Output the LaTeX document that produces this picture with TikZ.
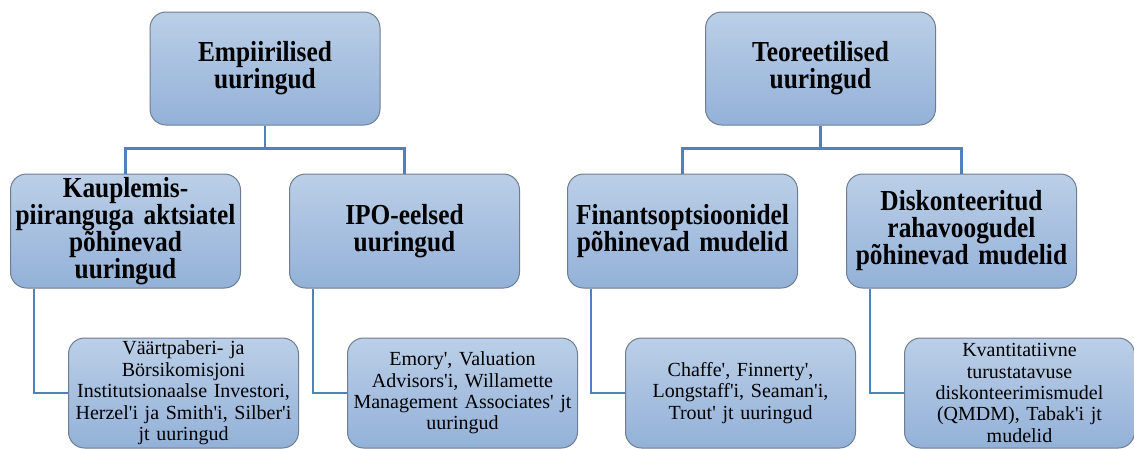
\documentclass[tikz,border=0pt]{standalone}
\usepackage{fontspec}
\setmainfont{Liberation Serif}[Ligatures=TeXOff]
\newfontfamily\headfont{Liberation Serif}[FakeStretch=0.875,Ligatures=TeXOff]
\usetikzlibrary{positioning}

\definecolor{boxtop}{HTML}{BBCFE7}
\definecolor{boxbot}{HTML}{93B1D8}
\definecolor{boxline}{HTML}{6E7D92}
\definecolor{connblue}{HTML}{4F81BD}

\begin{document}
\begin{tikzpicture}[x=1pt,y=-1pt,
  box/.style={draw=boxline,line width=1pt,rounded corners=16pt,
    top color=boxtop,bottom color=boxbot,align=center,
    minimum width=230pt,inner sep=1pt},
  head/.style={box,text width=226pt,minimum height=114pt,
    font=\headfont\fontsize{29}{27}\selectfont\bfseries},
  leaf/.style={box,text width=228pt,minimum height=110pt,inner ysep=1pt,
    font=\fontsize{20}{21.4}\selectfont},
  conn/.style={draw=connblue,line width=2.8pt}]
  \useasboundingbox (0,0) rectangle (1134,448);
  % top level
  \node[head,minimum height=113pt] (emp) at (265,68.5) {Empiirilised\\uuringud};
  \node[head,minimum height=113pt] (teo) at (820.5,68.5) {Teoreetilised\\uuringud};
  % second level
  \node[head] (kaup) at (125.5,231) {Kauplemis-\\piiranguga aktsiatel\\põhinevad\\uuringud};
  \node[head] (ipo) [right=48pt of kaup] {IPO-eelsed\\uuringud};
  \node[head] (fin) [right=47pt of ipo] {Finantsoptsioonidel\\põhinevad mudelid};
  \node[head] (disk) [right=48pt of fin] {Diskonteeritud\\rahavoogudel\\põhinevad mudelid};
  % leaves
  \node[leaf] (sec) [below=49pt of kaup,xshift=58pt] {Väärtpaberi- ja\\Börsikomisjoni\\Institutsionaalse Investori,\\Herzel'i ja Smith'i, Silber'i\\jt uuringud};
  \node[leaf] (emory) [below=49pt of ipo,xshift=58pt] {Emory', Valuation\\Advisors'i, Willamette\\Management Associates' jt\\uuringud};
  \node[leaf] (chaffe) [below=49pt of fin,xshift=58pt] {Chaffe', Finnerty',\\Longstaff'i, Seaman'i,\\Trout' jt uuringud};
  \node[leaf] (qmdm) [below=49pt of disk,xshift=58pt] {Kvantitatiivne\\turustatavuse\\diskonteerimismudel\\(QMDM), Tabak'i jt\\mudelid};
  %
  \draw[conn] (emp.south) -- ++(0,23) -| (kaup.north);
  \draw[conn] (emp.south) -- ++(0,23) -| (ipo.north);
  \draw[conn] (teo.south) -- ++(0,23) -| (fin.north);
  \draw[conn] (teo.south) -- ++(0,23) -| (disk.north);
  \draw[conn] ([xshift=24pt]kaup.south west) |- (sec.west);
  \draw[conn] ([xshift=24pt]ipo.south west) |- (emory.west);
  \draw[conn] ([xshift=24pt]fin.south west) |- (chaffe.west);
  \draw[conn] ([xshift=24pt]disk.south west) |- (qmdm.west);
\end{tikzpicture}
\end{document}
